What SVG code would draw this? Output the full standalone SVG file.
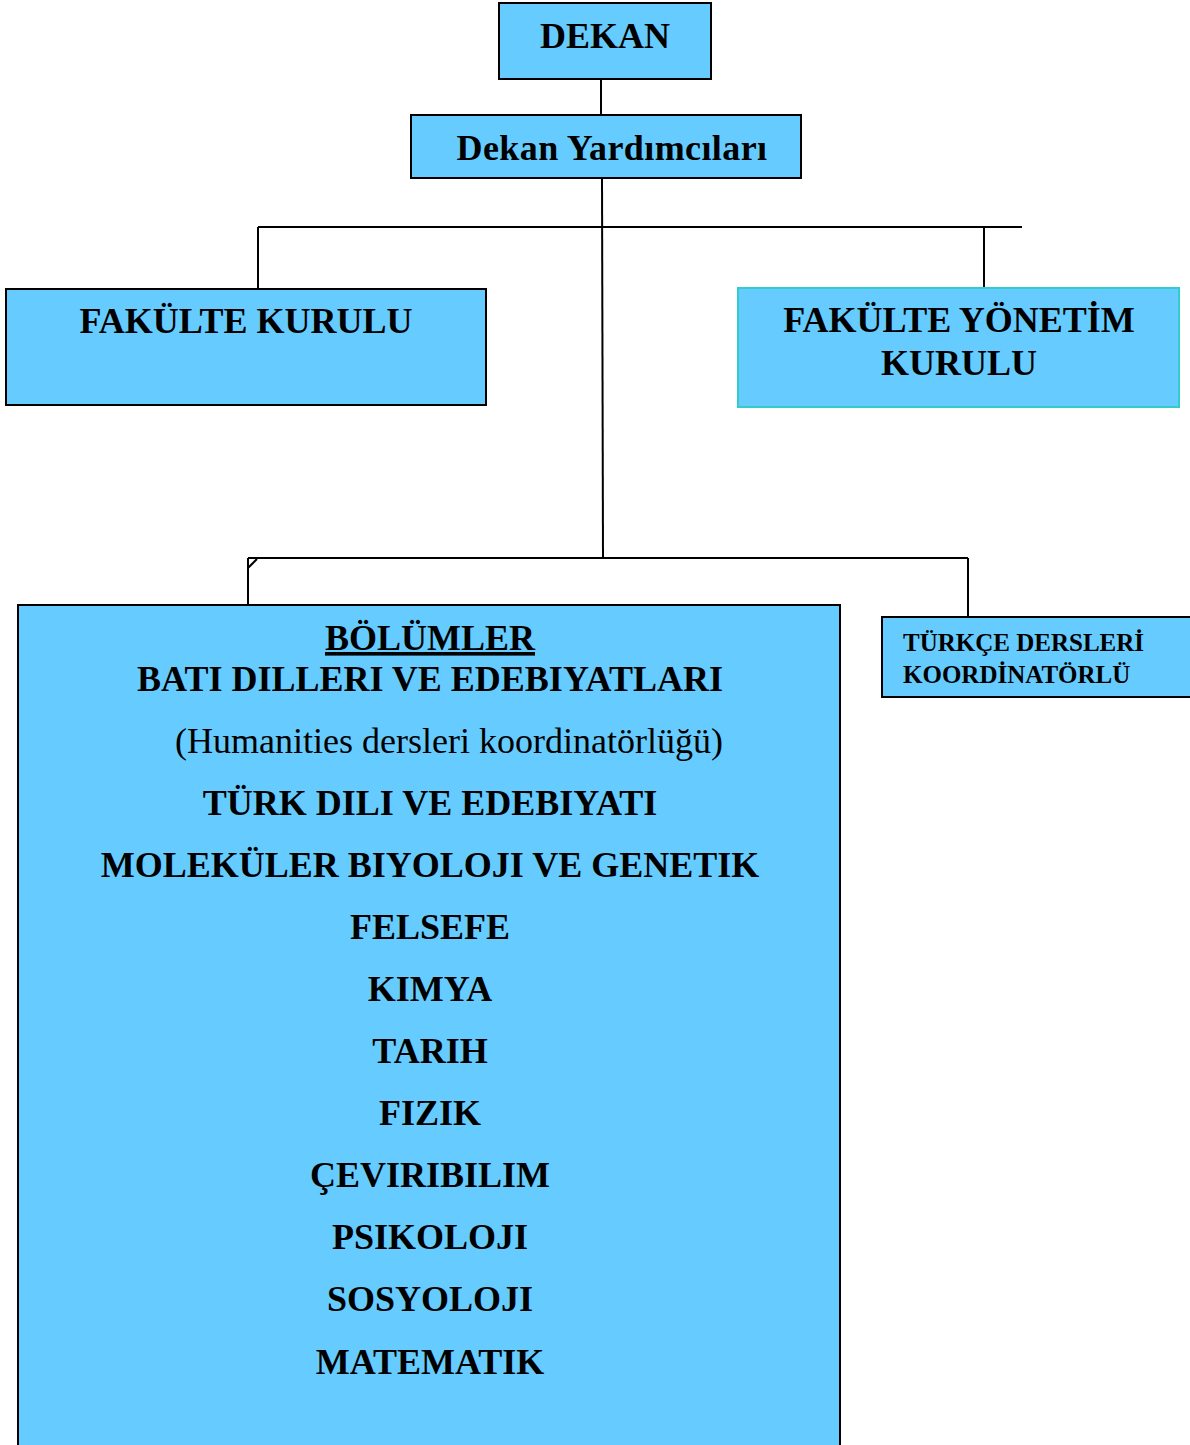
<svg xmlns="http://www.w3.org/2000/svg" width="1190" height="1445" viewBox="0 0 1190 1445">
<style>
.box{fill:#66CCFF;stroke:#000;stroke-width:2}
.boxc{fill:#66CCFF;stroke:#33CCCC;stroke-width:2}
.t{font-family:"Liberation Serif","Times New Roman",serif;font-weight:bold;font-size:36px;fill:#000;text-anchor:middle}
.r{font-family:"Liberation Serif","Times New Roman",serif;font-size:36px;fill:#000;text-anchor:middle}
.s{font-family:"Liberation Serif","Times New Roman",serif;font-weight:bold;font-size:25px;fill:#000}
.c{stroke:#000;stroke-width:2;fill:none}
</style>
<rect width="1190" height="1445" fill="#fff"/>
<g id="connectors">
<line class="c" x1="601" y1="76" x2="601" y2="115"/>
<line class="c" x1="602" y1="178" x2="603" y2="558"/>
<line class="c" x1="258" y1="227" x2="1022" y2="227"/>
<line class="c" x1="258" y1="227" x2="258" y2="289"/>
<line class="c" x1="984" y1="227" x2="984" y2="288"/>
<line class="c" x1="248" y1="558" x2="968" y2="558"/>
<line class="c" x1="248" y1="558" x2="248" y2="606"/>
<line class="c" x1="248" y1="568" x2="257" y2="559"/>
<line class="c" x1="968" y1="558" x2="968" y2="617"/>
</g>
<g id="dekan">
<rect class="box" x="499" y="3" width="212" height="76"/>
<text class="t" x="605" y="48">DEKAN</text>
</g>
<g id="dekan-yardimcilari">
<rect class="box" x="411" y="115" width="390" height="63"/>
<text class="t" x="612" y="160" letter-spacing="0.4">Dekan Yardımcıları</text>
</g>
<g id="fakulte-kurulu">
<rect class="box" x="6" y="289" width="480" height="116"/>
<text class="t" x="246" y="333">FAKÜLTE KURULU</text>
</g>
<g id="fakulte-yonetim-kurulu">
<rect class="boxc" x="738" y="288" width="441" height="119"/>
<text class="t" x="959" y="332">FAKÜLTE YÖNETİM</text>
<text class="t" x="959" y="375">KURULU</text>
</g>
<g id="bolumler">
<rect class="box" x="18" y="605" width="822" height="845"/>
<text class="t" x="430" y="650" text-decoration="underline">BÖLÜMLER</text>
<text class="t" x="430" y="691">BATI DILLERI VE EDEBIYATLARI</text>
<text class="r" x="449" y="753">(Humanities dersleri koordinatörlüğü)</text>
<text class="t" x="430" y="815">TÜRK DILI VE EDEBIYATI</text>
<text class="t" x="430" y="877">MOLEKÜLER BIYOLOJI VE GENETIK</text>
<text class="t" x="430" y="939">FELSEFE</text>
<text class="t" x="430" y="1001">KIMYA</text>
<text class="t" x="430" y="1063">TARIH</text>
<text class="t" x="430" y="1125">FIZIK</text>
<text class="t" x="430" y="1187">ÇEVIRIBILIM</text>
<text class="t" x="430" y="1249">PSIKOLOJI</text>
<text class="t" x="430" y="1311">SOSYOLOJI</text>
<text class="t" x="430" y="1374">MATEMATIK</text>
</g>
<g id="turkce-dersleri">
<rect class="box" x="882" y="617" width="320" height="80"/>
<text class="s" x="903" y="651">TÜRKÇE DERSLERİ</text>
<text class="s" x="903" y="683">KOORDİNATÖRLÜ</text>
</g>
</svg>
